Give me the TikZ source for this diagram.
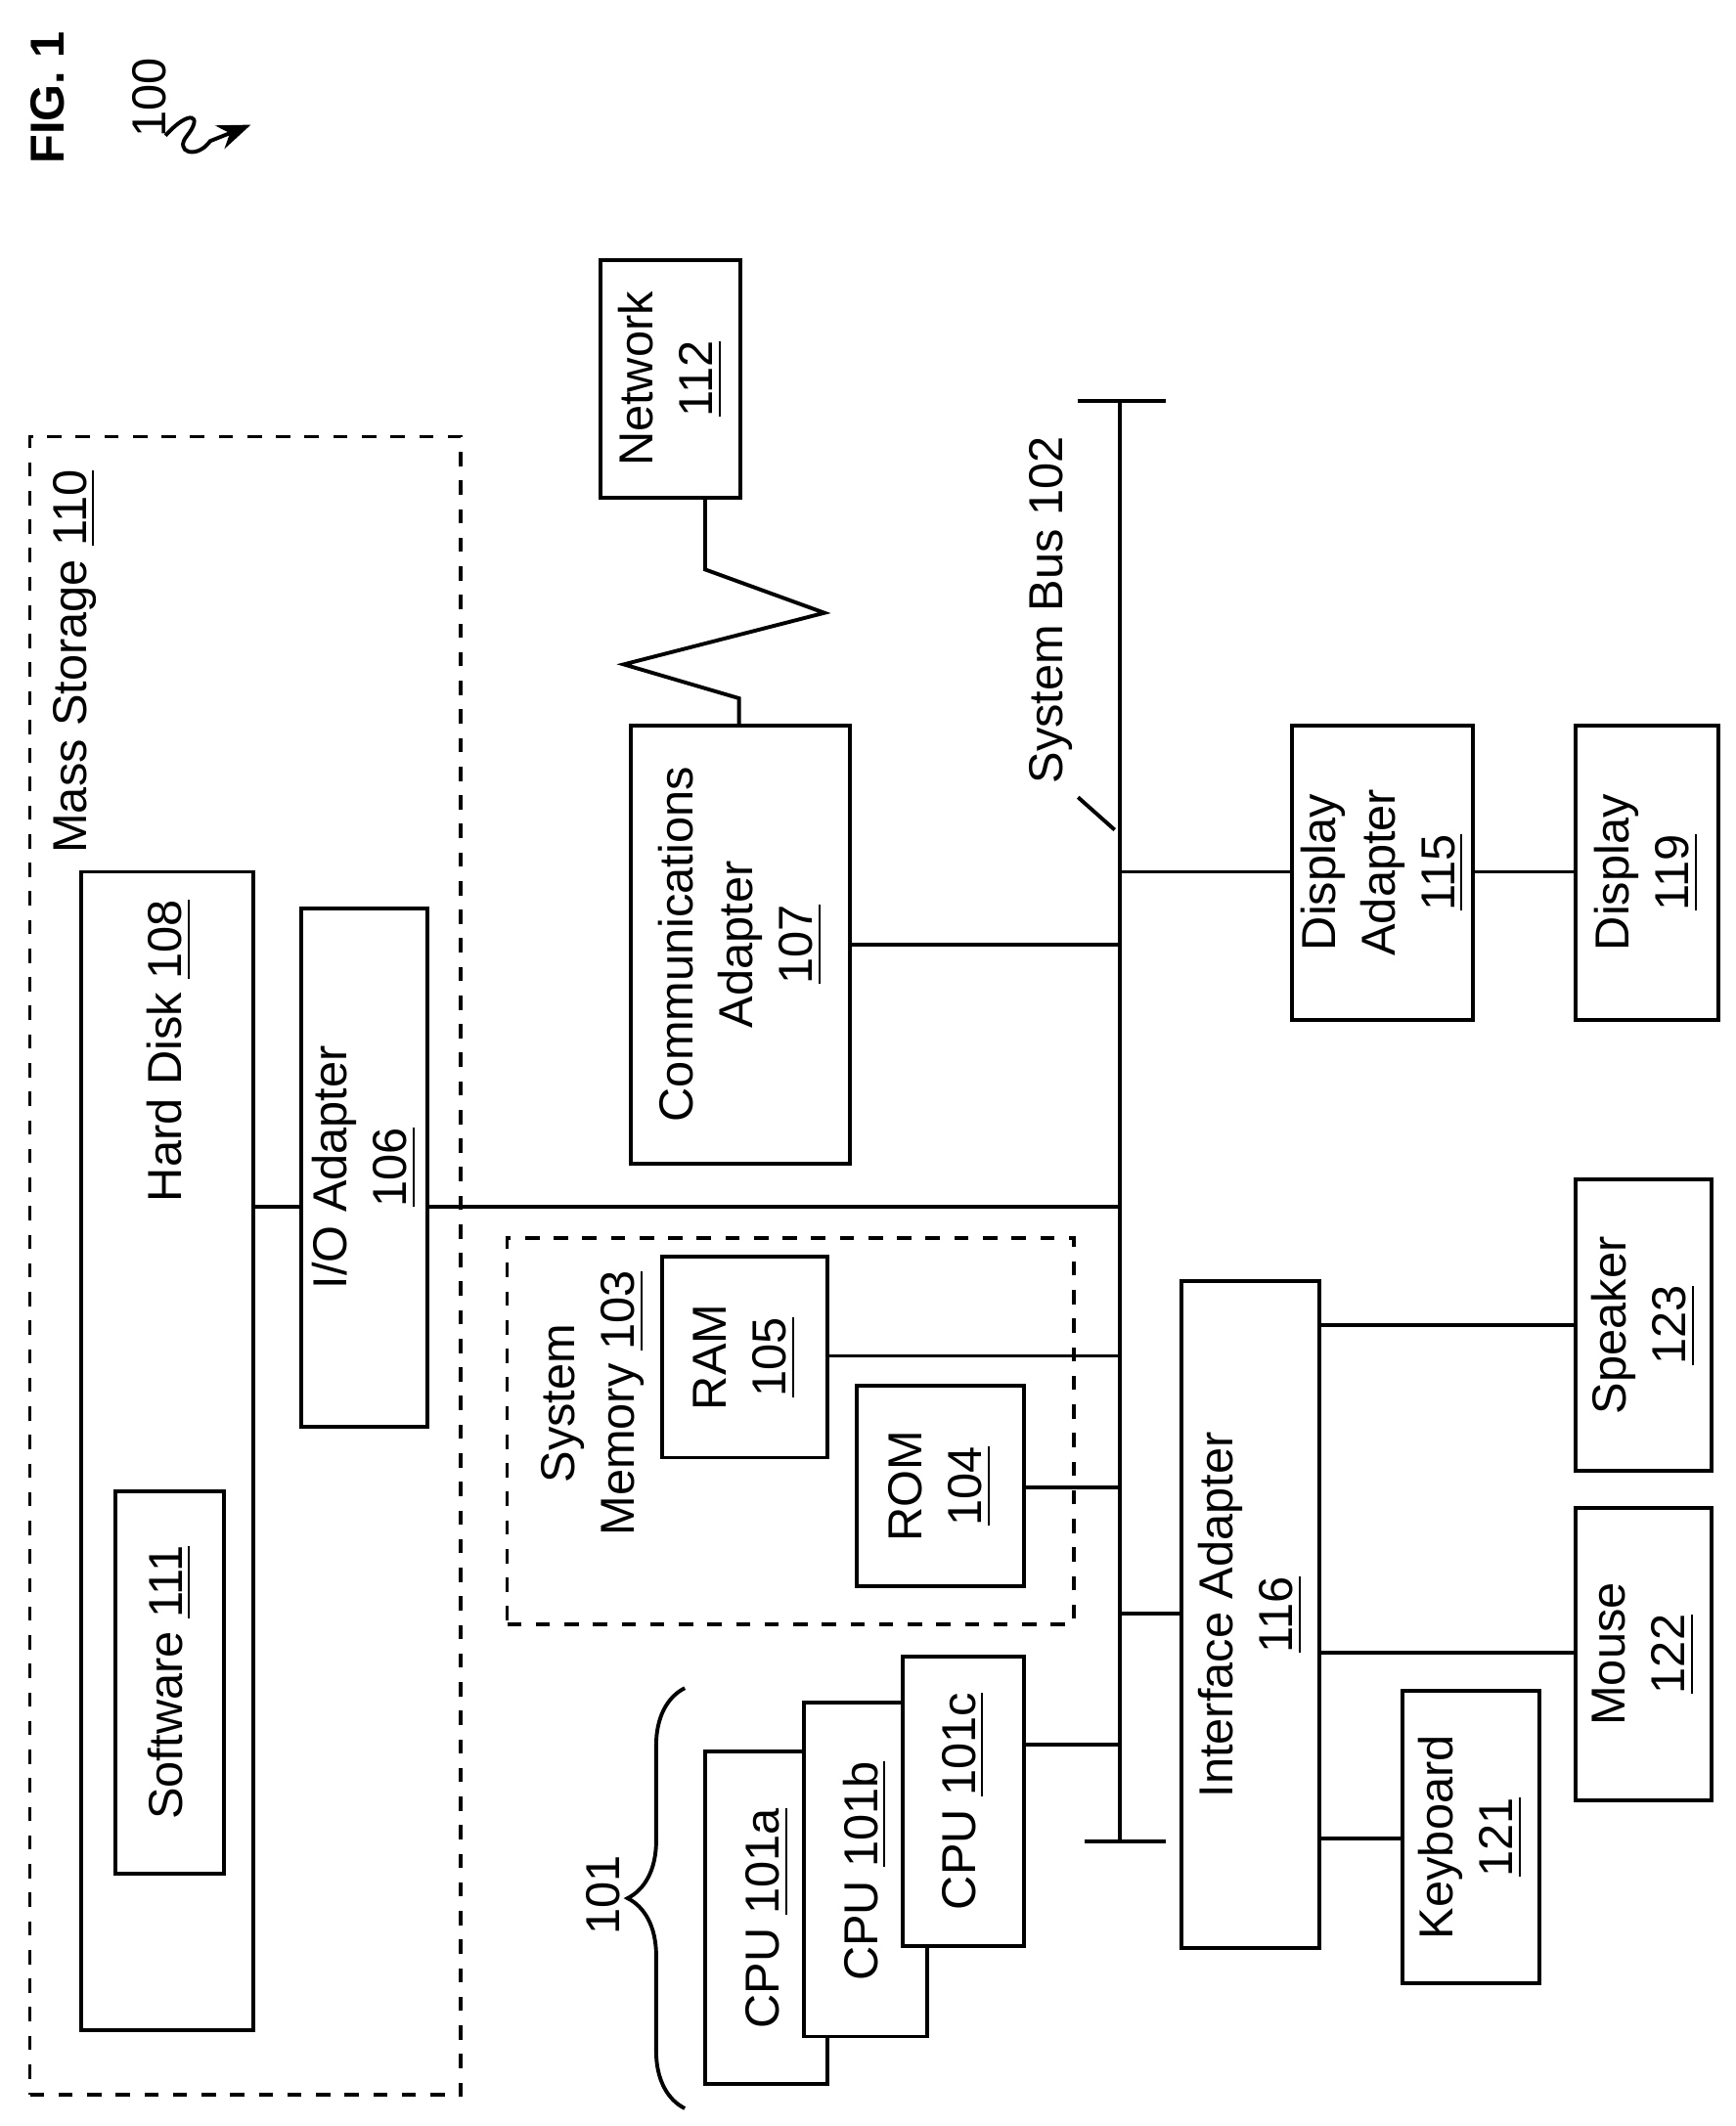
\documentclass[tikz,border=0pt]{standalone}
\usepackage{fontspec}
\setmainfont{Liberation Sans}
\usetikzlibrary{fit, decorations.pathreplacing, arrows.meta}

\tikzset{
  box/.style={draw, line width=0.8pt, inner sep=0pt, fill=white},
  dbox/.style={draw, line width=0.8pt, dashed, inner sep=0pt},
  lbl/.style={rotate=90, align=center, font=\fontsize{10}{12.5}\selectfont, inner sep=1pt},
  wire/.style={line width=0.8pt}
}
\newcommand{\num}[1]{\underline{#1}}

\begin{document}
\begin{tikzpicture}[x=0.01cm, y=-0.01cm]
  \useasboundingbox (0, 0) rectangle (1280, 1568);

  % figure label
  \node[lbl, font=\bfseries\fontsize{10}{12}\selectfont] (fig) at (35, 72) {FIG. 1};
  \node[lbl] (ref) at (110, 72) {100};
  \draw[wire, -{Stealth[length=7pt]}] (122, 100) .. controls (140, 80) and (150, 85) .. (138, 100)
    .. controls (128, 112) and (145, 118) .. (155, 104) -- (185, 92);

  % mass storage
  \node[dbox, fit={(22, 322) (340, 1545)}] (ms) {};
  \node[lbl] (mslbl) at (55, 488) {Mass Storage \num{110}};
  \node[box, fit={(60, 643) (187, 1497)}] (hd) {};
  \node[lbl] (hdlbl) at (125, 775) {Hard Disk \num{108}};
  \node[box, fit={(85, 1100) (165, 1382)}] (sw) {};
  \node[lbl] at (sw) {Software \num{111}};
  \node[box, fit={(222, 670) (315, 1052)}] (io) {};
  \node[lbl] at (io) {I/O Adapter\\\num{106}};

  % system bus
  \coordinate (bustop) at (826, 296);
  \coordinate (busbot) at (826, 1358);
  \draw[wire] (bustop) -- (busbot);
  \draw[wire] (795, 296) -- (860, 296);
  \draw[wire] (800, 1358) -- (860, 1358);
  \node[lbl] (buslbl) at (775, 450) {System Bus 102};
  \draw[wire] (795, 588) -- (822, 612);

  % network side
  \node[box, fit={(443, 192) (546, 367)}] (net) {};
  \node[lbl] at (net) {Network\\\num{112}};
  \node[box, fit={(465, 535) (627, 858)}] (comm) {};
  \node[lbl] at (comm) {Communications\\Adapter\\\num{107}};
  \draw[wire] (net.south -| 520, 0) -- (520, 420) -- (608, 452) -- (460, 490)
    -- (545, 515) -- (comm.north -| 545, 0);

  \node[box, fit={(953, 535) (1086, 752)}] (da) {};
  \node[lbl] at (da) {Display\\Adapter\\\num{115}};
  \node[box, fit={(1162, 535) (1267, 752)}] (disp) {};
  \node[lbl] at (disp) {Display\\\num{119}};

  % system memory
  \node[dbox, fit={(374, 913) (792, 1198)}] (sm) {};
  \node[lbl] at (437, 1035) {System\\Memory \num{103}};
  \node[box, fit={(488, 927) (610, 1075)}] (ram) {};
  \node[lbl] at (ram) {RAM\\\num{105}};
  \node[box, fit={(632, 1022) (755, 1170)}] (rom) {};
  \node[lbl] at (rom) {ROM\\\num{104}};

  % interface side
  \node[box, fit={(871, 945) (973, 1437)}] (ia) {};
  \node[lbl] at (ia) {Interface Adapter\\\num{116}};
  \node[box, fit={(1162, 870) (1262, 1085)}] (spk) {};
  \node[lbl] at (spk) {Speaker\\\num{123}};
  \node[box, fit={(1162, 1112) (1262, 1328)}] (mouse) {};
  \node[lbl] at (mouse) {Mouse\\\num{122}};
  \node[box, fit={(1034, 1247) (1135, 1463)}] (kbd) {};
  \node[lbl] at (kbd) {Keyboard\\\num{121}};

  % processors
  \node[box, fit={(520, 1292) (610, 1537)}] (cpua) {};
  \node[box, fit={(593, 1256) (684, 1502)}] (cpub) {};
  \node[box, fit={(666, 1222) (755, 1435)}] (cpuc) {};
  \node[lbl] at (566, 1415) {CPU \num{101a}};
  \node[lbl] at (638, 1380) {CPU \num{101b}};
  \node[lbl] at (cpuc) {CPU \num{101c}};
  \draw[wire, decorate, decoration={brace, amplitude=12pt}] (505, 1555) -- (505, 1245);
  \node[lbl] (cpulbl) at (445, 1398) {101};

  % connections
  \draw[wire] (hd.east |- 0, 890) -- (io.west |- 0, 890);
  \draw[wire] (io.east |- 0, 890) -- (826, 890);
  \draw[wire] (comm.east |- 0, 697) -- (826, 697);
  \draw[wire] (826, 643) -- (da.west |- 0, 643);
  \draw[wire] (da.east |- 0, 643) -- (disp.west |- 0, 643);
  \draw[wire] (ram.east |- 0, 1000) -- (826, 1000);
  \draw[wire] (rom.east |- 0, 1097) -- (826, 1097);
  \draw[wire] (826, 1190) -- (ia.west |- 0, 1190);
  \draw[wire] (cpuc.east |- 0, 1287) -- (826, 1287);
  \draw[wire] (ia.east |- 0, 977) -- (spk.west |- 0, 977);
  \draw[wire] (ia.east |- 0, 1219) -- (mouse.west |- 0, 1219);
  \draw[wire] (ia.east |- 0, 1356) -- (kbd.west |- 0, 1356);
\end{tikzpicture}
\end{document}
